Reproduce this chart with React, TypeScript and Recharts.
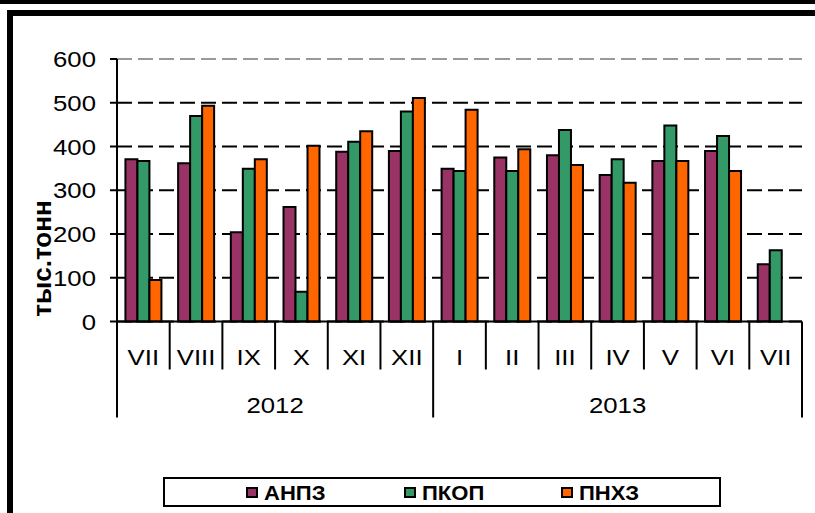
import React from 'react';
import { BarChart, Bar, XAxis, YAxis, CartesianGrid, ReferenceLine, Legend } from 'recharts';

const months = ['VII', 'VIII', 'IX', 'X', 'XI', 'XII', 'I', 'II', 'III', 'IV', 'V', 'VI', 'VII'];
const years = ['2012', '2012', '2012', '2012', '2012', '2012', '2013', '2013', '2013', '2013', '2013', '2013', '2013'];
const anpz = [371, 362, 204, 262, 388, 390, 349, 375, 380, 335, 367, 390, 131];
const pkop = [367, 470, 349, 68, 411, 480, 344, 344, 438, 371, 448, 424, 163];
const pnhz: (number | null)[] = [95, 493, 371, 402, 435, 511, 484, 394, 358, 317, 367, 344, null];
const yTicks = [0, 100, 200, 300, 400, 500, 600];
const seriesNames = ['АНПЗ', 'ПКОП', 'ПНХЗ'];
const colors = ['#993366', '#339966', '#FF6600'];

const data = months.map((m, i) => ({
  key: `${years[i]}-${m}-${i}`,
  month: m,
  year: years[i],
  a: anpz[i],
  b: pkop[i],
  c: pnhz[i],
}));

const FONT = 'Liberation Sans, Arial, sans-serif';
const PLOT_W = 685;
const SX = 1.12;

const WideText = ({ x, y, anchor, size, bold, children }: any) => (
  <text
    transform={`translate(${x} ${y}) scale(${SX} 1)`}
    x={0}
    y={0}
    textAnchor={anchor}
    fontSize={size}
    fontWeight={bold ? 'bold' : 'normal'}
    fontFamily={FONT}
    fill="#000"
  >
    {children}
  </text>
);

const MonthTick = (props: any) => {
  const { x, y, payload } = props;
  const i: number = payload.index;
  const half: number = payload.offset && payload.offset > 0 ? payload.offset : PLOT_W / months.length / 2;
  const isStart = i === 0 || years[i] !== years[i - 1];
  const isLast = i === months.length - 1;
  let count = 0;
  if (isStart) {
    for (let k = i; k < years.length && years[k] === years[i]; k++) count++;
  }
  return (
    <g>
      <line x1={x - half} y1={y} x2={x - half} y2={y + (isStart ? 96 : 48)} stroke="#000" strokeWidth={2} />
      {isLast && <line x1={x + half} y1={y} x2={x + half} y2={y + 96} stroke="#000" strokeWidth={2} />}
      <WideText x={x} y={y + 43} anchor="middle" size={23}>{months[i]}</WideText>
      {isStart && (
        <WideText x={x - half + count * half} y={y + 91} anchor="middle" size={23}>{years[i]}</WideText>
      )}
    </g>
  );
};

const YTick = (props: any) => {
  const { x, y, payload } = props;
  return <WideText x={x} y={y + 8} anchor="end" size={23}>{payload.value}</WideText>;
};

const YLabel = (props: any) => {
  const { viewBox } = props;
  const cx = viewBox.x - 15;
  const cy = viewBox.y + viewBox.height * 0.76;
  return (
    <text x={cx} y={cy} transform={`rotate(-90 ${cx} ${cy})`} textAnchor="middle" dominantBaseline="central"
      fontSize={26} fontWeight="bold" fontFamily={FONT} fill="#000">
      тыс.тонн
    </text>
  );
};

const LegendContent = (props: any) => {
  const payload = props.payload || [];
  return (
    <div style={{
      boxSizing: 'border-box', width: 558, height: 30, border: '2px solid #000', background: '#fff',
      display: 'flex', alignItems: 'center', paddingLeft: 81, fontFamily: FONT,
    }}>
      {payload.map((p: any, idx: number) => (
        <div key={idx} style={{ width: 161, display: 'flex', alignItems: 'center' }}>
          <span style={{
            display: 'inline-block', boxSizing: 'border-box', width: 12, height: 11,
            background: p.color, border: '2px solid #000', marginRight: 6,
          }} />
          <span style={{
            display: 'inline-block', fontSize: 21, fontWeight: 'bold', color: '#000', lineHeight: '21px',
            transform: 'scaleX(1.05)', transformOrigin: 'left center',
          }}>{p.value}</span>
        </div>
      ))}
    </div>
  );
};

export default function App() {
  return (
    <div style={{ position: 'absolute', left: 0, top: 0, width: 815, height: 513, background: '#fff', overflow: 'hidden' }}>
      <div style={{ position: 'absolute', left: 0, top: 0, width: 815, height: 4, background: '#000' }} />
      <div style={{
        position: 'absolute', left: 7, top: 10, width: 900, height: 600,
        borderLeft: '6px solid #000', borderTop: '6px solid #000',
      }} />
      <div style={{ position: 'absolute', left: 0, top: 0 }}>
        <BarChart
          width={815}
          height={513}
          data={data}
          margin={{ top: 59, right: 13, bottom: 91.5, left: 57 }}
          barCategoryGap="16%"
          barGap={0}
        >
          <CartesianGrid vertical={false} stroke="#000" strokeWidth={2} strokeDasharray="15 6" />
          <ReferenceLine y={600} stroke="#999" strokeWidth={2} strokeDasharray="15 6" />
          <XAxis
            dataKey="key"
            height={100}
            interval={0}
            tickLine={false}
            tickSize={0}
            tickMargin={0}
            axisLine={{ stroke: '#000', strokeWidth: 2 }}
            tick={<MonthTick />}
          />
          <YAxis
            width={60}
            domain={[0, 600]}
            ticks={yTicks}
            interval={0}
            tickSize={7}
            tickMargin={14}
            axisLine={{ stroke: '#000', strokeWidth: 2 }}
            tickLine={{ stroke: '#000', strokeWidth: 2 }}
            tick={<YTick />}
            label={<YLabel />}
          />
          <YAxis
            yAxisId="r"
            orientation="right"
            width={0}
            tick={false}
            tickLine={false}
            axisLine={{ stroke: '#999', strokeWidth: 2 }}
          />
          <Legend
            layout="vertical"
            align="center"
            verticalAlign="middle"
            wrapperStyle={{ position: 'absolute', left: 163, top: 477, width: 558, height: 30 }}
            content={<LegendContent />}
          />
          <Bar dataKey="a" name={seriesNames[0]} fill={colors[0]} stroke="#000" strokeWidth={2} isAnimationActive={false} />
          <Bar dataKey="b" name={seriesNames[1]} fill={colors[1]} stroke="#000" strokeWidth={2} isAnimationActive={false} />
          <Bar dataKey="c" name={seriesNames[2]} fill={colors[2]} stroke="#000" strokeWidth={2} isAnimationActive={false} />
        </BarChart>
      </div>
    </div>
  );
}
